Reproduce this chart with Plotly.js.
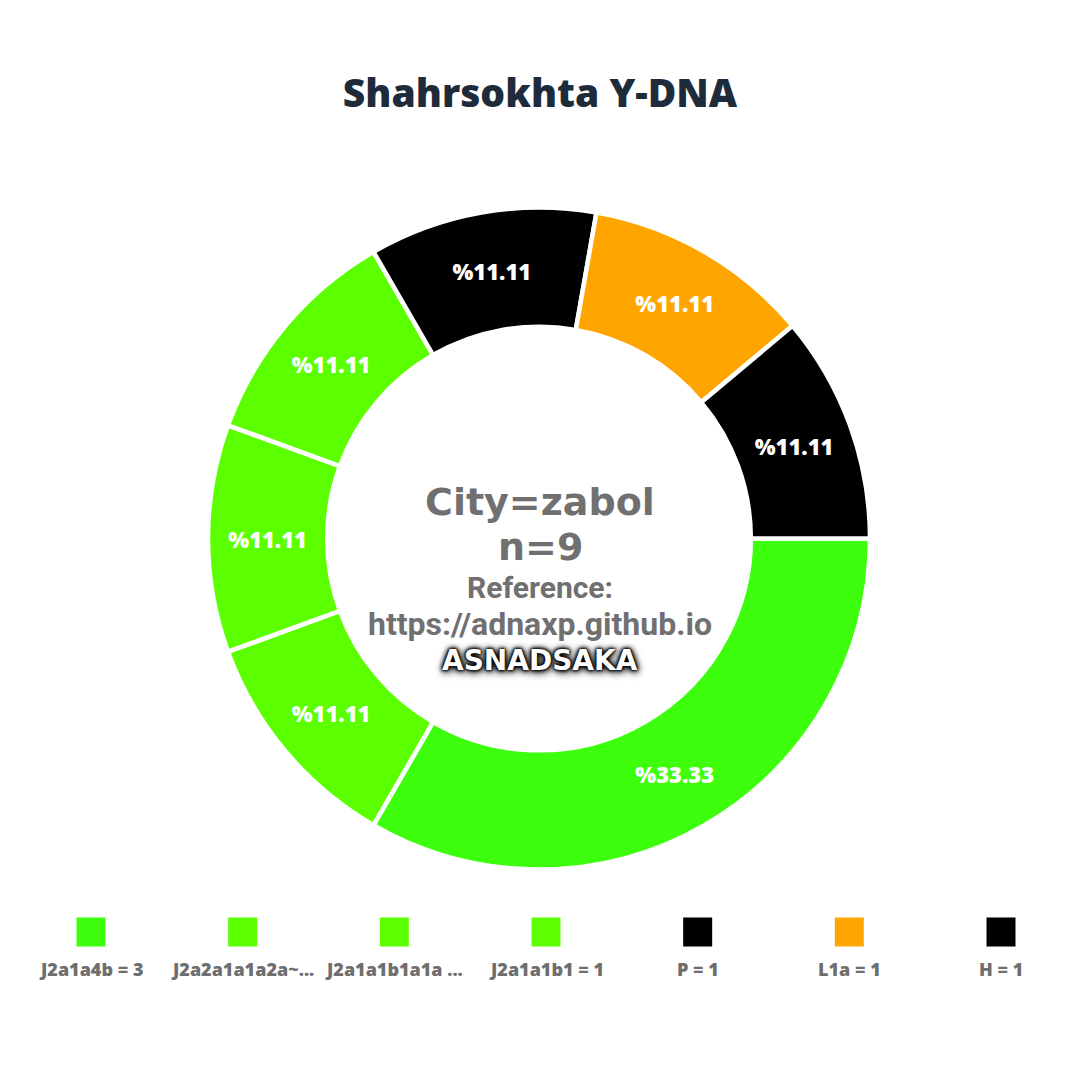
<!DOCTYPE html>
<html>
<head>
<meta charset="utf-8">
<script src="https://cdn.plot.ly/plotly-3.0.1.min.js"></script>
<style>
html,body{margin:0;padding:0;background:#fff;}
#chart{width:1080px;height:1080px;}
</style>
</head>
<body>
<div id="chart"></div>
<script>
// ---- data ----
const haplogroups = ['J2a1a4b', 'J2a2a1a1a2a~', 'J2a1a1b1a1a', 'J2a1a1b1', 'P', 'L1a', 'H'];
const counts = [3, 1, 1, 1, 1, 1, 1];
const legendLabels = ['J2a1a4b = 3', 'J2a2a1a1a2a~...', 'J2a1a1b1a1a ...', 'J2a1a1b1 = 1', 'P = 1', 'L1a = 1', 'H = 1'];
const sliceColors = ['#3dff0d', '#5cff00', '#5cff00', '#5cff00', '#000000', '#ffa500', '#000000'];
const titleText = 'Shahrsokhta Y-DNA';
const centerTexts = ['City=zabol', 'n=9', 'Reference:', 'https://adnaxp.github.io', 'ASNADSAKA'];

const total = counts.reduce((a, b) => a + b, 0);
const pctText = counts.map(c => '%' + (c / total * 100).toFixed(2));

const W = 1080, H = 1080;
const cx = 539, cy = 538.5, R = 331;

const trace = {
  type: 'pie',
  values: counts,
  labels: haplogroups,
  text: pctText,
  textinfo: 'text',
  textposition: 'inside',
  insidetextorientation: 'horizontal',
  hole: 0.64,
  sort: false,
  direction: 'clockwise',
  rotation: 90,
  marker: { colors: sliceColors, line: { color: '#ffffff', width: 4.5 } },
  textfont: { family: '"Open Sans", sans-serif', size: 22, color: '#ffffff', weight: 800 },
  insidetextfont: { family: '"Open Sans", sans-serif', size: 22, color: '#ffffff', weight: 800 },
  domain: { x: [(cx - R) / W, (cx + R) / W], y: [1 - (cy + R) / H, 1 - (cy - R) / H] },
  showlegend: false,
  hoverinfo: 'label+value'
};

const annotations = [];
const shapes = [];
const gray = '#707070';

// stacked centre texts: boxes placed one under another without overlap
const centerStyle = [
  { fam: '"DejaVu Sans", sans-serif', size: 38, w: 700, ratio: 1.164, color: gray },
  { fam: '"DejaVu Sans", sans-serif', size: 38, w: 700, ratio: 1.164, color: gray },
  { fam: 'Roboto, sans-serif', size: 30, w: 700, ratio: 1.172, color: gray },
  { fam: 'Roboto, sans-serif', size: 32, w: 700, ratio: 1.172, color: gray },
  { fam: '"DejaVu Sans", sans-serif', size: 28, w: 700, ratio: 1.164, color: '#ffffff',
    shadow: '0 0 2px #000, 0 0 3px #000, 0 0 4px #000, 0 0 6px #000, 1px 2px 8px #000' }
];
const boxH = centerStyle.map(s => s.size * s.ratio + 0.8);
const totalH = boxH.reduce((a, b) => a + b, 0);
let yCursor = 581 - (totalH - boxH[0] / 2 - boxH[boxH.length - 1] / 2) / 2 - boxH[0] / 2;
centerTexts.forEach((t, i) => {
  const s = centerStyle[i];
  const yc = yCursor + boxH[i] / 2;
  yCursor += boxH[i];
  const font = { family: s.fam, size: s.size, color: s.color, weight: s.w };
  if (s.shadow) font.shadow = s.shadow;
  annotations.push({
    text: t, xref: 'paper', yref: 'paper', x: 0.5, y: 1 - yc / H,
    xanchor: 'center', yanchor: 'middle', showarrow: false, borderpad: 0, font: font
  });
});

// custom legend built from data arrays
const n = haplogroups.length;
const x0 = 91, step = 910 / (n - 1), sq = 29;
for (let i = 0; i < n; i++) {
  const lx = x0 + i * step;
  shapes.push({
    type: 'rect', xref: 'paper', yref: 'paper',
    x0: (lx - sq / 2) / W, x1: (lx + sq / 2) / W,
    y0: 1 - (932 + sq / 2) / H, y1: 1 - (932 - sq / 2) / H,
    fillcolor: sliceColors[i], line: { width: 0 }
  });
  annotations.push({
    text: legendLabels[i], xref: 'paper', yref: 'paper',
    x: lx / W, y: 1 - 969 / H, xanchor: 'center', yanchor: 'middle',
    showarrow: false,
    font: { family: '"Open Sans", sans-serif', size: 18, color: '#6e6e6e', weight: 800 }
  });
}

const layout = {
  width: W, height: H,
  margin: { l: 0, r: 0, t: 0, b: 0 },
  paper_bgcolor: '#ffffff', plot_bgcolor: '#ffffff',
  title: {
    text: titleText, x: 0.5, xanchor: 'center', y: 1 - 93 / H, yanchor: 'middle',
    font: { family: '"Open Sans", sans-serif', size: 39, color: '#1e2b3b', weight: 800 }
  },
  annotations: annotations,
  shapes: shapes,
  showlegend: false
};

Plotly.newPlot('chart', [trace], layout, { displayModeBar: false, staticPlot: true });
</script>
</body>
</html>
